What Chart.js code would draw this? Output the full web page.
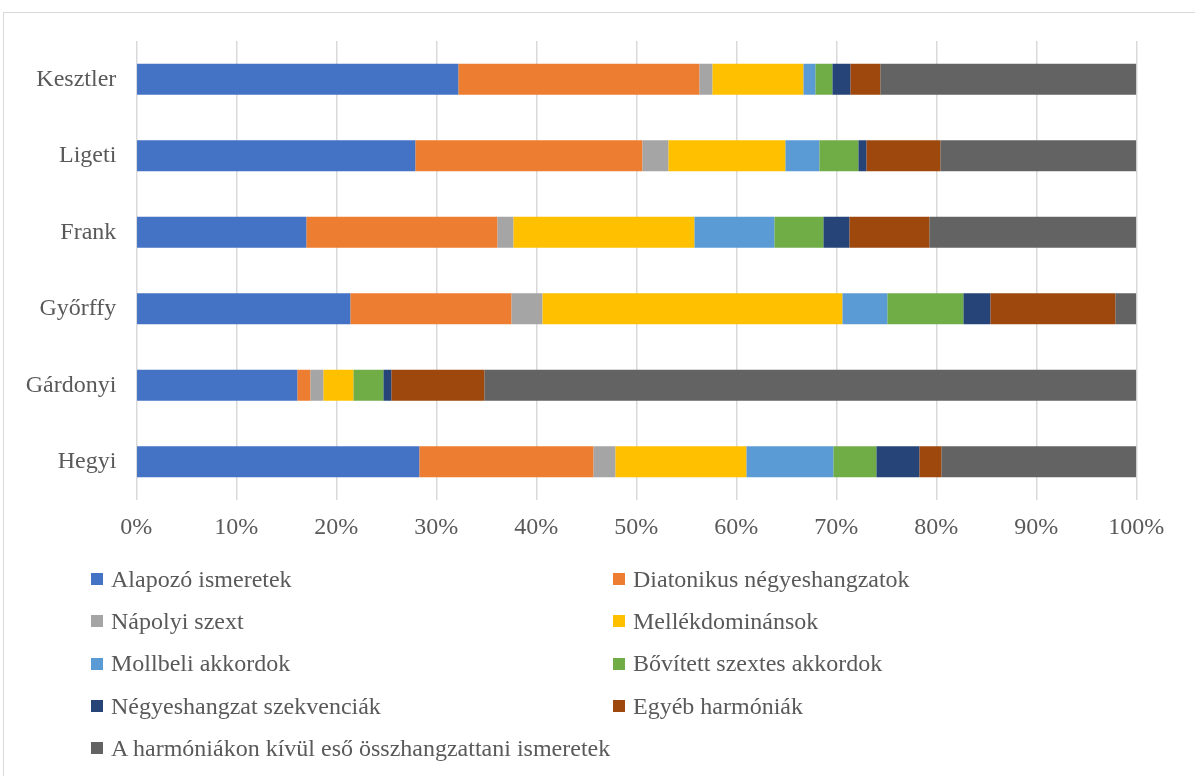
<!DOCTYPE html>
<html>
<head>
<meta charset="utf-8">
<script src="https://cdn.jsdelivr.net/npm/chart.js@4/dist/chart.umd.min.js"></script>
<style>
html,body{margin:0;padding:0;background:#fff;overflow:hidden;}
#wrap{position:relative;width:1195px;height:776px;}
#frame{position:absolute;left:3px;top:12px;width:1210px;height:790px;border:1px solid #d9d9d9;box-sizing:border-box;pointer-events:none;}
#c{position:absolute;left:0;top:0;}
#legend{position:absolute;left:91px;top:558px;display:grid;grid-template-columns:522px 500px;grid-auto-rows:42.3px;font-family:"Liberation Serif","Times New Roman",serif;font-size:24px;color:#595959;}
.item{display:flex;align-items:center;white-space:nowrap;}
.sw{width:12px;height:12px;margin-right:8px;flex:none;}
</style>
</head>
<body>
<div id="wrap">
<canvas id="c" width="1195" height="776"></canvas>
<div id="legend"></div>
<div id="frame"></div>
</div>
<script>
const categories = ["Kesztler","Ligeti","Frank","Győrffy","Gárdonyi","Hegyi"];
const seriesNames = [
  "Alapozó ismeretek",
  "Diatonikus négyeshangzatok",
  "Nápolyi szext",
  "Mellékdominánsok",
  "Mollbeli akkordok",
  "Bővített szextes akkordok",
  "Négyeshangzat szekvenciák",
  "Egyéb harmóniák",
  "A harmóniákon kívül eső összhangzattani ismeretek"
];
const alapozo      = [32.2, 27.9, 17.0, 21.4, 16.1, 28.3];
const diatonikus   = [24.1, 22.7, 19.1, 16.1,  1.3, 17.4];
const napolyi      = [ 1.3,  2.6,  1.6,  3.1,  1.3,  2.2];
const mellekdom    = [ 9.1, 11.7, 18.1, 30.0,  3.0, 13.1];
const mollbeli     = [ 1.2,  3.4,  8.0,  4.5,  0.0,  8.7];
const bovitett     = [ 1.7,  3.9,  4.9,  7.6,  3.0,  4.3];
const szekvencia   = [ 1.8,  0.8,  2.6,  2.7,  0.8,  4.3];
const egyeb        = [ 3.0,  7.4,  8.0, 12.5,  9.3,  2.2];
const kivul        = [25.6, 19.6, 20.7,  2.1, 65.2, 19.5];
const tickLabels = ["0%","10%","20%","30%","40%","50%","60%","70%","80%","90%","100%"];

const colors = ["#4472C4","#ED7D31","#A5A5A5","#FFC000","#5B9BD5","#70AD47","#264478","#9E480E","#636363"];
const allSeries = [alapozo, diatonikus, napolyi, mellekdom, mollbeli, bovitett, szekvencia, egyeb, kivul];

const FONT = '"Liberation Serif","Times New Roman",serif';
const datasets = allSeries.map((d,i)=>({
  label: seriesNames[i],
  data: d,
  backgroundColor: colors[i],
  borderWidth: 0,
  barPercentage: 1,
  categoryPercentage: 0.405
}));

new Chart(document.getElementById('c'), {
  type: 'bar',
  data: { labels: categories, datasets },
  options: {
    indexAxis: 'y',
    responsive: false,
    animation: false,
    devicePixelRatio: 1,
    layout: { padding: { top: 41, left: 0, right: 58.7, bottom: 0 } },
    plugins: { legend: { display: false }, tooltip: { enabled: false } },
    scales: {
      x: {
        stacked: true, min: 0, max: 100,
        grid: { color: '#d9d9d9', lineWidth: 1.5, drawTicks: false },
        border: { display: false },
        ticks: {
          stepSize: 10, padding: 13, color: '#595959',
          font: { family: FONT, size: 24 },
          callback: (v) => tickLabels[Math.round(v/10)]
        },
        afterFit: (s) => { s.height = 276; }
      },
      y: {
        stacked: true,
        grid: { display: false, drawTicks: false },
        border: { display: false },
        ticks: { padding: 20, color: '#595959', font: { family: FONT, size: 24 } },
        afterFit: (s) => { s.width = 136.3; }
      }
    }
  }
});

const lg = document.getElementById('legend');
seriesNames.forEach((n,i)=>{
  const it = document.createElement('div'); it.className='item';
  const sw = document.createElement('span'); sw.className='sw'; sw.style.background = colors[i];
  const tx = document.createElement('span'); tx.textContent = n;
  it.appendChild(sw); it.appendChild(tx); lg.appendChild(it);
});
</script>
</body>
</html>
